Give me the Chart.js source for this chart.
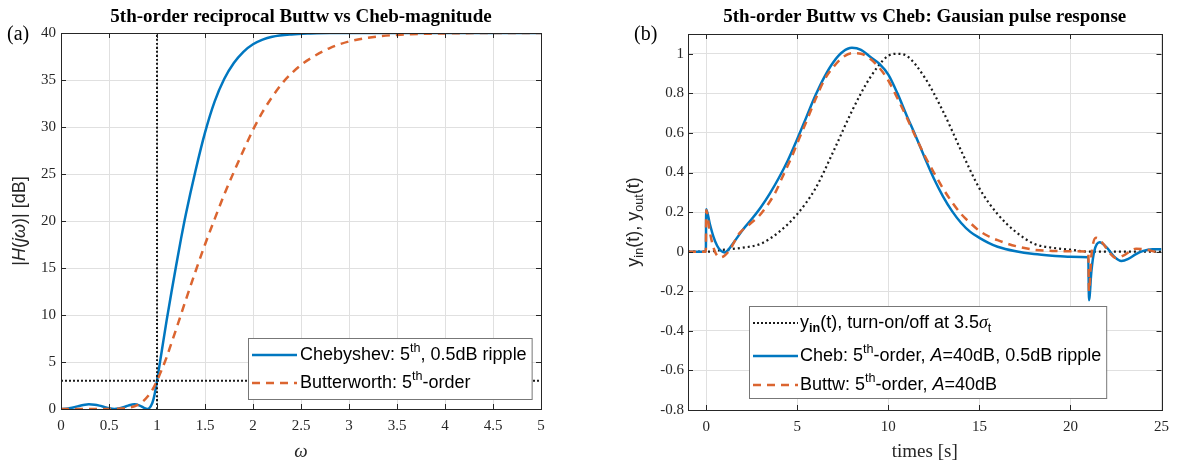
<!DOCTYPE html>
<html lang="en">
<head>
<meta charset="UTF-8">
<title>5th-order Buttw vs Cheb</title>
<script src="https://cdn.jsdelivr.net/npm/chart.js"></script>
<style>
  html, body { margin: 0; padding: 0; background: #fff; }
  body { width: 1177px; height: 466px; position: relative; overflow: hidden; }
  canvas { position: absolute; top: 0; }
  #magChart { left: 0; }
  #pulseChart { left: 590px; }
</style>
</head>
<body>
<canvas id="magChart" width="590" height="466"></canvas>
<canvas id="pulseChart" width="587" height="466"></canvas>
<script>
// ---- (a) magnitude in dB against normalised frequency ----
const chebW  = [0, 0.05, 0.1, 0.15, 0.2, 0.25, 0.29, 0.35, 0.4, 0.45, 0.5, 0.556, 0.6, 0.65, 0.7, 0.765, 0.82, 0.86, 0.9, 0.95, 0.976, 1.0,
                1.05, 1.1, 1.15, 1.2, 1.25, 1.3, 1.4, 1.5, 1.6, 1.7, 1.8, 1.9, 2.0, 2.1, 2.2, 2.4, 2.6, 2.8, 3.0, 4.0, 5.0];
const chebDb = [0, 0.02, 0.1, 0.22, 0.35, 0.46, 0.5, 0.46, 0.36, 0.22, 0.08, 0, 0.05, 0.18, 0.36, 0.5, 0.36, 0.15, 0, 0.62, 1.6, 3.0,
                6.2, 9.4, 12.4, 15.3, 18.1, 20.7, 25.3, 29.4, 32.7, 35.1, 36.8, 38.0, 38.8, 39.3, 39.6, 39.85, 39.95, 40, 40, 40, 40];
const buttW  = [0, 0.5, 0.6, 0.7, 0.8, 0.85, 0.9, 0.95, 1.0, 1.05, 1.1, 1.15, 1.2, 1.3, 1.4, 1.5, 1.6, 1.7, 1.8, 1.9, 2.0,
                2.1, 2.2, 2.3, 2.4, 2.5, 2.6, 2.8, 3.0, 3.2, 3.5, 4.0, 4.5, 5.0];
const buttDb = [0, 0, 0.03, 0.12, 0.44, 0.77, 1.3, 2.0, 3.0, 4.2, 5.5, 7.0, 8.5, 11.6, 14.6, 17.5, 20.2, 22.8, 25.2, 27.5, 29.7,
                31.6, 33.2, 34.6, 35.7, 36.6, 37.3, 38.4, 39.1, 39.5, 39.8, 39.95, 40, 40];
const magXTicks = [0, 0.5, 1, 1.5, 2, 2.5, 3, 3.5, 4, 4.5, 5];
const magYTicks = [0, 5, 10, 15, 20, 25, 30, 35, 40];
const cutoffW  = 1;   // vertical dotted marker
const cutoffDb = 3;   // horizontal dotted marker

// ---- (b) Gaussian pulse response ----
const inputT = [-1, 0, 1, 2, 3, 4, 5, 6, 7, 8, 9, 10, 10.5, 11, 12, 13, 14, 15, 16, 17, 18, 19, 20, 21, 22, 23, 24, 25];
const inputY = [0, 0, 0.01, 0.02, 0.04, 0.1, 0.19, 0.32, 0.51, 0.71, 0.88, 0.99, 1.0, 0.99, 0.88, 0.71, 0.51, 0.32, 0.19, 0.1, 0.04, 0.02, 0.01, 0, 0, 0, 0, 0];
const chebT = [-1, -0.02, 0, 0.2, 0.4, 0.6, 0.8, 1.0, 1.2, 1.5, 2.0, 2.5, 3.0, 3.5, 4.0, 4.5, 5.0, 5.5, 6.0, 6.5, 7.0, 7.5, 8.0, 8.5,
               9.0, 9.5, 10.0, 10.5, 11.0, 11.5, 12.0, 12.5, 13.0, 13.5, 14.0, 14.5, 15.0, 15.5, 16.0, 17.0, 18.0, 19.0, 20.0,
               20.98, 21.02, 21.15, 21.3, 21.6, 22.0, 22.4, 22.8, 23.2, 23.6, 24.0, 24.5, 25];
const chebY = [0, 0, 0.215, 0.14, 0.075, 0.03, 0.005, -0.004, 0.008, 0.045, 0.11, 0.165, 0.225, 0.295, 0.375, 0.465, 0.57, 0.68, 0.79, 0.885, 0.96, 1.01, 1.03, 1.02,
               0.985, 0.95, 0.895, 0.8, 0.69, 0.585, 0.475, 0.37, 0.28, 0.205, 0.145, 0.1, 0.07, 0.045, 0.025, 0.002, -0.012, -0.02, -0.025,
               -0.028, -0.245, -0.1, 0.0, 0.048, 0.02, -0.025, -0.047, -0.035, -0.012, 0.004, 0.012, 0.012];
const buttT = [-1, -0.02, 0, 0.2, 0.4, 0.6, 0.8, 1.0, 1.3, 1.8, 2.4, 2.9, 3.4, 3.8, 4.2, 4.7, 5.1, 5.6, 6.0, 6.5, 7.0, 7.5, 8.0, 8.5,
               9.0, 9.5, 10.0, 10.5, 11.0, 11.5, 12.0, 12.5, 13.0, 13.5, 14.0, 14.5, 15.0, 15.5, 16.0, 17.0, 18.0, 19.0, 20.0,
               20.98, 21.02, 21.15, 21.4, 21.8, 22.1, 22.5, 22.9, 23.6, 24.2, 24.7, 25];
const buttY = [0, 0, 0.21, 0.1, 0.02, -0.02, -0.028, -0.02, 0.01, 0.09, 0.14, 0.18, 0.24, 0.3, 0.38, 0.48, 0.57, 0.68, 0.77, 0.87, 0.935, 0.982, 1.003, 1.0,
               0.975, 0.93, 0.865, 0.775, 0.68, 0.58, 0.485, 0.4, 0.32, 0.25, 0.19, 0.145, 0.105, 0.078, 0.058, 0.028, 0.01, 0.004, 0.002,
               0.0, -0.2, -0.02, 0.07, 0.04, 0.0, -0.032, -0.02, 0.015, 0.01, 0.0, 0.0];
const pulseXTicks = [0, 5, 10, 15, 20, 25];
const pulseYTicks = [-0.8, -0.6, -0.4, -0.2, 0, 0.2, 0.4, 0.6, 0.8, 1];

const BLUE = '#0077C0', ORANGE = '#DB6530', DOT = '#1a1a1a';
const AXIS = '#262626', GRID = '#e0e0e0';
const SERIF = '"Liberation Serif", "Times New Roman", serif';
const SANS = '"Liberation Sans", Arial, sans-serif';

const toXY = (xs, ys) => xs.map((x, i) => ({ x: x, y: ys[i] }));

// draws a run of text pieces, some italic / super / subscript
function drawRich(ctx, runs, x, y, size, family, align) {
  let total = 0;
  const parts = runs.map(r => {
    const s = (r.sup || r.sub) ? size * 0.7 : size;
    const font = (r.i ? 'italic ' : '') + (r.b ? 'bold ' : '') + s + 'px ' + (r.f || family);
    ctx.font = font;
    const w = ctx.measureText(r.t).width;
    total += w;
    return { font: font, w: w, dy: r.sup ? -size * 0.38 : (r.sub ? size * 0.3 : 0) };
  });
  let cx = align === 'center' ? x - total / 2 : (align === 'right' ? x - total : x);
  ctx.textAlign = 'left';
  ctx.textBaseline = 'middle';
  runs.forEach((r, i) => {
    ctx.font = parts[i].font;
    ctx.fillText(r.t, cx, y + parts[i].dy);
    cx += parts[i].w;
  });
  return total;
}

function richWidth(ctx, runs, size, family) {
  let total = 0;
  runs.forEach(r => {
    const s = (r.sup || r.sub) ? size * 0.7 : size;
    ctx.font = (r.i ? 'italic ' : '') + (r.b ? 'bold ' : '') + s + 'px ' + (r.f || family);
    total += ctx.measureText(r.t).width;
  });
  return total;
}

function drawLegend(ctx, x0, y1, rows, lineX0, lineX1, textX, size) {
  const widths = rows.map(r => richWidth(ctx, r.runs, size, SANS));
  const x1 = textX + Math.max(...widths) + 5;
  const y0 = rows[0].y - 17;
  ctx.fillStyle = '#fff';
  ctx.fillRect(x0, y0, x1 - x0, y1 - y0);
  ctx.strokeStyle = '#777';
  ctx.lineWidth = 1;
  ctx.setLineDash([]);
  ctx.strokeRect(x0 + 0.5, y0 + 0.5, x1 - x0, y1 - y0);
  rows.forEach(r => {
    ctx.save();
    ctx.strokeStyle = r.color;
    ctx.lineWidth = r.width;
    ctx.setLineDash(r.dash);
    ctx.beginPath();
    ctx.moveTo(lineX0, r.y);
    ctx.lineTo(lineX1, r.y);
    ctx.stroke();
    ctx.restore();
    ctx.fillStyle = '#000';
    drawRich(ctx, r.runs, textX, r.y, size, SANS, 'left');
  });
}

// MATLAB-like box with inward ticks plus the labels of each panel
function matlabFrame(decorate) {
  return {
    id: 'matlabFrame',
    afterDraw(chart) {
      const ctx = chart.ctx, a = chart.chartArea, sx = chart.scales.x, sy = chart.scales.y;
      ctx.save();
      ctx.strokeStyle = AXIS;
      ctx.lineWidth = 1;
      ctx.setLineDash([]);
      ctx.strokeRect(Math.round(a.left) + 0.5, Math.round(a.top) + 0.5, Math.round(a.right - a.left), Math.round(a.bottom - a.top));
      ctx.beginPath();
      sx.ticks.forEach(t => {
        const px = Math.round(sx.getPixelForValue(t.value)) + 0.5;
        ctx.moveTo(px, a.bottom); ctx.lineTo(px, a.bottom - 5);
        ctx.moveTo(px, a.top); ctx.lineTo(px, a.top + 5);
      });
      sy.ticks.forEach(t => {
        const py = Math.round(sy.getPixelForValue(t.value)) + 0.5;
        ctx.moveTo(a.left, py); ctx.lineTo(a.left + 5, py);
        ctx.moveTo(a.right, py); ctx.lineTo(a.right - 5, py);
      });
      ctx.stroke();
      decorate(ctx, a);
      ctx.restore();
    }
  };
}

function axisOptions(min, max, ticks, afterFitSize, isX, pad) {
  return {
    type: 'linear',
    min: min,
    max: max,
    afterBuildTicks: s => { s.ticks = ticks.map(v => ({ value: v })); },
    afterFit: s => { if (isX) s.height = afterFitSize; else s.width = afterFitSize; },
    grid: { color: GRID, lineWidth: 1, drawTicks: false },
    border: { display: false },
    ticks: {
      color: AXIS,
      padding: pad,
      font: { family: SERIF, size: 15 },
      maxRotation: 0,
      autoSkip: false,
      callback: v => String(v)
    }
  };
}

const baseOptions = {
  responsive: false,
  animation: false,
  devicePixelRatio: 1,
  plugins: { legend: { display: false }, tooltip: { enabled: false } },
  elements: { point: { radius: 0 }, line: { cubicInterpolationMode: 'monotone' } }
};

// ---------------- (a) ----------------
new Chart(document.getElementById('magChart'), {
  type: 'line',
  data: {
    datasets: [
      { data: [{ x: 0, y: cutoffDb }, { x: 5, y: cutoffDb }], borderColor: DOT, borderWidth: 2, borderDash: [2, 2] },
      { data: [{ x: cutoffW, y: 0 }, { x: cutoffW, y: 40 }], borderColor: DOT, borderWidth: 2, borderDash: [2, 2] },
      { data: toXY(buttW, buttDb), borderColor: ORANGE, borderWidth: 2.5, borderDash: [8, 6] },
      { data: toXY(chebW, chebDb), borderColor: BLUE, borderWidth: 2.5 }
    ]
  },
  options: Object.assign({}, baseOptions, {
    layout: { padding: { left: 0, right: 49, top: 33, bottom: 0 } },
    scales: {
      x: axisOptions(0, 5, magXTicks, 57, true, 8),
      y: axisOptions(0, 40, magYTicks, 61, false, 5)
    }
  }),
  plugins: [matlabFrame((ctx, a) => {
    const cx = (a.left + a.right) / 2, cy = (a.top + a.bottom) / 2;
    ctx.fillStyle = '#000';
    ctx.font = 'bold 19px ' + SERIF;
    ctx.textAlign = 'center';
    ctx.textBaseline = 'middle';
    ctx.fillText('5th-order reciprocal Buttw vs Cheb-magnitude', cx, 17);
    ctx.font = '20px ' + SERIF;
    ctx.textAlign = 'left';
    ctx.fillText('(a)', 7, 35);
    ctx.fillStyle = AXIS;
    drawRich(ctx, [{ t: 'ω', i: true }], cx, 452, 19, SERIF, 'center');
    ctx.save();
    ctx.translate(20, cy);
    ctx.rotate(-Math.PI / 2);
    drawRich(ctx, [{ t: '|' }, { t: 'H', i: true }, { t: '(' }, { t: 'j', i: true }, { t: 'ω', i: true }, { t: ')| [dB]' }], 0, 0, 18, SANS, 'center');
    ctx.restore();
    drawLegend(ctx, a.left + 187, a.bottom - 10, [
      { y: a.bottom - 54, color: BLUE, width: 2.5, dash: [],
        runs: [{ t: 'Chebyshev: 5' }, { t: 'th', sup: true }, { t: ', 0.5dB ripple' }] },
      { y: a.bottom - 26, color: ORANGE, width: 2.5, dash: [8, 6],
        runs: [{ t: 'Butterworth: 5' }, { t: 'th', sup: true }, { t: '-order' }] }
    ], a.left + 191, a.left + 236, a.left + 239, 18);
  })]
});

// ---------------- (b) ----------------
new Chart(document.getElementById('pulseChart'), {
  type: 'line',
  data: {
    datasets: [
      { data: toXY(buttT, buttY), borderColor: ORANGE, borderWidth: 2.5, borderDash: [8, 6] },
      { data: toXY(chebT, chebY), borderColor: BLUE, borderWidth: 2.5 },
      { data: toXY(inputT, inputY), borderColor: DOT, borderWidth: 2.2, borderDash: [2, 3] }
    ]
  },
  options: Object.assign({}, baseOptions, {
    layout: { padding: { left: 0, right: 9, top: 34, bottom: 0 } },
    scales: {
      x: axisOptions(-1, 25, pulseXTicks, 56, true, 8),
      y: axisOptions(-0.8, 1.1, pulseYTicks, 98, false, 4)
    }
  }),
  plugins: [matlabFrame((ctx, a) => {
    const cx = (a.left + a.right) / 2, cy = (a.top + a.bottom) / 2;
    ctx.fillStyle = '#000';
    ctx.font = 'bold 19px ' + SERIF;
    ctx.textAlign = 'center';
    ctx.textBaseline = 'middle';
    ctx.fillText('5th-order Buttw vs Cheb: Gausian pulse response', cx, 17);
    ctx.font = '20px ' + SERIF;
    ctx.textAlign = 'left';
    ctx.fillText('(b)', 44, 35);
    ctx.fillStyle = AXIS;
    ctx.font = '19px ' + SERIF;
    ctx.textAlign = 'center';
    ctx.fillText('times [s]', cx, 452);
    ctx.save();
    ctx.translate(44, cy);
    ctx.rotate(-Math.PI / 2);
    drawRich(ctx, [{ t: 'y' }, { t: 'in', sub: true }, { t: '(t), y' }, { t: 'out', sub: true }, { t: '(t)' }], 0, 0, 18, SANS, 'center');
    ctx.restore();
    drawLegend(ctx, a.left + 61, a.bottom - 12, [
      { y: a.bottom - 87, color: DOT, width: 2, dash: [2, 2],
        runs: [{ t: 'y' }, { t: 'in', sub: true, b: true }, { t: '(t), turn-on/off at 3.5' }, { t: 'σ', i: true, f: SERIF }, { t: 't', sub: true }] },
      { y: a.bottom - 54, color: BLUE, width: 2.5, dash: [],
        runs: [{ t: 'Cheb: 5' }, { t: 'th', sup: true }, { t: '-order, ' }, { t: 'A', i: true }, { t: '=40dB, 0.5dB ripple' }] },
      { y: a.bottom - 25, color: ORANGE, width: 2.5, dash: [8, 6],
        runs: [{ t: 'Buttw: 5' }, { t: 'th', sup: true }, { t: '-order, ' }, { t: 'A', i: true }, { t: '=40dB' }] }
    ], a.left + 65, a.left + 110, a.left + 112, 18);
  })]
});
</script>
</body>
</html>
